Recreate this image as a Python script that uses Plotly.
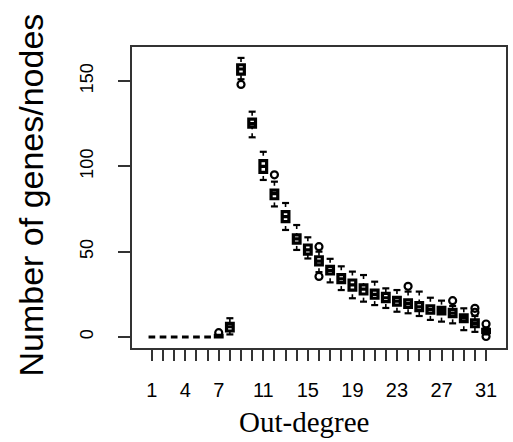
import plotly.graph_objects as go

categories = list(range(1, 32))
q1 = [0, 0, 0, 0, 0, 0, 0, 3.5, 154, 123, 96.5, 81, 67.6, 55, 48.6, 42.2, 36.9, 31.8, 27.5, 25.2,
      22.7, 20.7, 18.7, 17.4, 15.4, 13.9, 13.5, 11.9, 9, 6, 2.5]
median = [0, 0, 0, 0, 0, 0, 0.5, 6, 157, 125, 100, 84, 70.5, 57.5, 51, 44.5, 39, 34, 30.5, 28,
          25, 23, 21, 19.5, 17.7, 16, 15.5, 14, 11, 8, 3.5]
q3 = [0, 0, 0, 0, 0, 0, 1, 8, 159.5, 127.7, 103.3, 86, 73.4, 59.8, 53.9, 47, 41.4, 36.5, 33.4, 30.5,
      27.5, 25.6, 23.2, 21.7, 20.1, 18.2, 17.4, 16.2, 12.9, 10, 4.5]
lower_whisker = [0, 0, 0, 0, 0, 0, 0, 1.5, 151, 117, 92, 76.5, 62.7, 51, 46, 38, 32, 27.5, 22.7, 20.7,
                 18.7, 17, 14.8, 13.9, 12.3, 10, 9, 8, 4, 3, 1.5]
upper_whisker = [0, 0, 0, 0, 0, 0, 1, 11, 163.5, 132, 108.5, 91, 78.5, 65.6, 58.4, 50, 45.8, 41.4, 38.3, 36.3,
                 32.4, 28.5, 27.5, 26.6, 26.6, 23, 21.3, 18.2, 16.8, 12.3, 5.5]
outlier_x = [7, 9, 12, 16, 16, 24, 28, 30, 30, 31, 31]
outlier_y = [2.5, 148, 95, 52.9, 35.5, 29.7, 21.3, 16.8, 14.5, 7.6, 0.3]

x_tick_labels = {1: "1", 4: "4", 7: "7", 11: "11", 15: "15", 19: "19", 23: "23", 27: "27", 31: "31"}
y_ticks = [0, 50, 100, 150]

fig = go.Figure()

# dashed whiskers (from cap toward box)
wx, wy = [], []
for c, a, b, lo, hi in zip(categories, q1, q3, lower_whisker, upper_whisker):
    if hi > b:
        wx += [c, c, None]
        wy += [hi, b, None]
    if lo < a:
        wx += [c, c, None]
        wy += [lo, a, None]
fig.add_trace(go.Scatter(x=wx, y=wy, mode="lines",
                         line=dict(color="black", width=1.6, dash="4px,4px"),
                         hoverinfo="skip", showlegend=False))

fig.add_trace(go.Box(
    x=categories, q1=q1, median=median, q3=q3,
    lowerfence=q1, upperfence=q3,
    width=0.6, whiskerwidth=0,
    fillcolor="white", line=dict(color="black", width=3.2),
    boxpoints=False, showlegend=False))

# whisker caps
cap_x = [c for c, a, b, lo, hi in zip(categories, q1, q3, lower_whisker, upper_whisker) if hi > b] + \
        [c for c, a, b, lo, hi in zip(categories, q1, q3, lower_whisker, upper_whisker) if lo < a]
cap_y = [hi for c, a, b, lo, hi in zip(categories, q1, q3, lower_whisker, upper_whisker) if hi > b] + \
        [lo for c, a, b, lo, hi in zip(categories, q1, q3, lower_whisker, upper_whisker) if lo < a]
fig.add_trace(go.Scatter(x=cap_x, y=cap_y, mode="markers",
                         marker=dict(symbol="line-ew", size=5, line=dict(color="black", width=2.2)),
                         hoverinfo="skip", showlegend=False))

fig.add_trace(go.Scatter(x=outlier_x, y=outlier_y, mode="markers",
                         marker=dict(symbol="circle-open", size=7, color="black",
                                     line=dict(color="black", width=2.2)),
                         showlegend=False))

fig.update_layout(
    width=513, height=442,
    margin=dict(l=132, r=5, t=47, b=94),
    paper_bgcolor="white", plot_bgcolor="white",
    font=dict(family="Liberation Sans, Arial, sans-serif", color="black"),
    xaxis=dict(range=[-0.786, 32.79], tickmode="array", tickvals=categories,
               ticktext=[x_tick_labels.get(c, "") for c in categories],
               ticks="outside", ticklen=11, tickwidth=1.6, tickcolor="#333",
               showgrid=False, zeroline=False, showline=True, mirror=True,
               linecolor="#333", linewidth=1.6,
               tickfont=dict(size=20, color="black"), ticklabelstandoff=12),
    yaxis=dict(range=[-6.45, 169.9], tickmode="array", tickvals=y_ticks,
               ticktext=[str(v) for v in y_ticks], tickangle=-90,
               ticks="outside", ticklen=12, tickwidth=1.6, tickcolor="#333",
               showgrid=False, zeroline=False, showline=True, mirror=True,
               linecolor="#333", linewidth=1.6,
               tickfont=dict(size=18, color="black"), ticklabelstandoff=18),
    annotations=[
        dict(text="Out-degree", xref="paper", yref="paper", x=(305 - 132) / 376, y=-(422 - 348) / 301,
             xanchor="center", yanchor="middle", showarrow=False,
             font=dict(family="Liberation Serif, Times New Roman, serif", size=29, color="black")),
        dict(text="Number of genes/nodes", xref="paper", yref="paper", x=-(132 - 30) / 376,
             y=(348 - 195) / 301, xanchor="center", yanchor="middle", textangle=-90, showarrow=False,
             font=dict(family="Liberation Sans, Arial, sans-serif", size=34, color="black")),
    ],
)

fig.write_html("out.html")
